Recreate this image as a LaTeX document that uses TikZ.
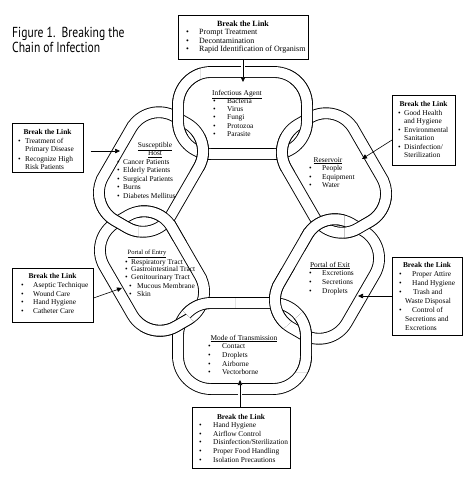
\documentclass[tikz,border=0pt]{standalone}
\usepackage{graphicx}
\usepackage{fontspec}
\setmainfont{Liberation Serif}
\newfontfamily\titlefont{PT Sans}
\usetikzlibrary{arrows.meta}
\newcommand\chainlink[6]{%
  \draw[link, shift={(#1,#2)}, rotate=#3, rounded corners=#6]
    (0,-#5) -- (#4,-#5) -- (#4,#5) -- (-#4,#5) -- (-#4,-#5) -- cycle;}
\newcommand\linkT{\chainlink{242.5}{113}{0}{64.5}{41}{33}}
\newcommand\linkUR{\chainlink{334}{173}{-60}{60}{39}{32}}
\newcommand\linkLR{\chainlink{327}{279}{60}{60}{39}{32}}
\newcommand\linkB{\chainlink{242}{346}{0}{64}{43}{33}}
\newcommand\linkLL{\chainlink{152}{271}{-60}{60}{39}{32}}
\newcommand\linkUL{\chainlink{151}{172}{60}{60}{39}{32}}
\begin{document}
\begin{tikzpicture}[x=1pt,y=-1pt,
  link/.style={line width=0.9pt, double=white, double distance=10pt},
  bl/.style={draw, line width=0.6pt, fill=white, inner sep=0pt},
  tx/.style={font=\fontsize{7.4}{8.6}\selectfont, inner sep=0pt, anchor=base west},
  hd/.style={font=\bfseries\fontsize{7.4}{8.6}\selectfont, inner sep=0pt, anchor=base},
  ul/.style={font=\fontsize{7.4}{8.6}\selectfont, inner sep=0pt, anchor=base},
  arr/.style={-{Triangle[length=5pt,width=4.5pt]}, line width=0.6pt},
]
\useasboundingbox (0,0) rectangle (474,483);
% title
\node[anchor=base west, inner sep=0] (title1) at (12,37.5) {\scalebox{0.8}[1]{\titlefont\fontsize{14.5}{15}\selectfont Figure 1.\ \ Breaking the}};
\node[anchor=base west, inner sep=0] (title2) at (12,52.5) {\scalebox{0.8}[1]{\titlefont\fontsize{14.5}{15}\selectfont Chain of Infection}};
% links
\linkT \linkUR \linkLR \linkB \linkLL \linkUL
% interlocking
\begin{scope}\clip (150,60) rectangle (200,134); \linkT \end{scope}
\begin{scope}\clip (180,134) rectangle (215,170); \linkUL \end{scope}
\begin{scope}\clip (290,60) rectangle (335,134); \linkT \end{scope}
\begin{scope}\clip (270,134) rectangle (305,170); \linkUR \end{scope}
\begin{scope}\clip (138,200) rectangle (187,240); \linkLL \end{scope}
\begin{scope}\clip (88,198) rectangle (138,245); \linkUL \end{scope}
\begin{scope}\clip (150,280) -- (158.5,287.9) -- (216.5,343.1) -- (235,343) -- (235,280) -- cycle; \linkB \end{scope}
\begin{scope}\clip (150,280) -- (158.5,287.9) -- (216.5,343.1) -- (216.5,365) -- (140,365) -- (140,280) -- cycle; \linkLL \end{scope}
\begin{scope}\clip (300,198) rectangle (344.5,250); \linkLR \end{scope}
\begin{scope}\clip (344.5,198) rectangle (395,250); \linkUR \end{scope}
\begin{scope}\clip (263.8,345.7) -- (324.2,293.3) -- (324.2,268) -- (250,268) -- (250,345.7) -- cycle; \linkLR \end{scope}
\begin{scope}\clip (263.8,345.7) -- (324.2,293.3) -- (345,293.3) -- (345,372) -- (263.8,372) -- cycle; \linkB \end{scope}
% boxes
\node[bl, minimum width=130, minimum height=44, anchor=north west] (btop) at (178,15) {};
\node[hd, font=\bfseries\fontsize{8}{9}\selectfont] at (243,26) {Break the Link};
\foreach \t [count=\i] in {Prompt Treatment, Decontamination, Rapid Identification of Organism} {
  \node[tx, font=\fontsize{8}{9}\selectfont] at (186,25.5+\i*8.8) {\textbullet}; \node[tx, font=\fontsize{8}{9}\selectfont] at (199,25.5+\i*8.8) {\t};}
\node[bl, minimum width=71, minimum height=49, anchor=north west] (bhost) at (12,123) {};
\node[hd] at (47.5,134) {Break the Link};
\node[tx] at (18,143) {\textbullet}; \node[tx] at (25,143) {Treatment of};
\node[tx] at (25,151.5) {Primary Disease};
\node[tx] at (18,161) {\textbullet}; \node[tx] at (25,161) {Recognize High};
\node[tx] at (25,169.5) {Risk Patients};
\node[bl, minimum width=63, minimum height=70, anchor=north west] (bres) at (392,95) {};
\node[hd] at (423.5,106) {Break the Link};
\node[tx] at (398,115) {\textbullet}; \node[tx] at (404,115) {Good Health};
\node[tx] at (404,123.5) {and Hygiene};
\node[tx] at (398,132) {\textbullet}; \node[tx] at (404,132) {Environmental};
\node[tx] at (404,140.5) {Sanitation};
\node[tx] at (398,149) {\textbullet}; \node[tx] at (404,149) {Disinfection/};
\node[tx] at (404,157.5) {Sterilization};
\node[bl, minimum width=70, minimum height=78, anchor=north west] (bexit) at (392,257) {};
\node[hd] at (427,267) {Break the Link};
\node[tx] at (399,276) {\textbullet}; \node[tx] at (412,276) {Proper Attire};
\node[tx] at (399,285) {\textbullet}; \node[tx] at (412,285) {Hand Hygiene};
\node[tx] at (399,294) {\textbullet}; \node[tx] at (413,294) {Trash and};
\node[tx] at (405,303) {Waste Disposal};
\node[tx] at (399,312) {\textbullet}; \node[tx] at (412,312) {Control of};
\node[tx] at (405,321) {Secretions and};
\node[tx] at (405,330) {Excretions};
\node[bl, minimum width=81, minimum height=54, anchor=north west] (bentry) at (12,268) {};
\node[hd] at (52.5,278) {Break the Link};
\foreach \t [count=\i] in {Aseptic Technique, Wound Care, Hand Hygiene, Catheter Care} {
  \node[tx] at (21,279+\i*8.6) {\textbullet}; \node[tx] at (33,279+\i*8.6) {\t};}
\node[bl, minimum width=98, minimum height=61, anchor=north west] (bmode) at (192,407) {};
\node[hd] at (241,419) {Break the Link};
\foreach \t [count=\i] in {Hand Hygiene, Airflow Control, Disinfection/Sterilization, Proper Food Handling, Isolation Precautions} {
  \node[tx] at (199,419+\i*8.6) {\textbullet}; \node[tx] at (213,419+\i*8.6) {\t};}
% link texts
\node[ul] at (237,95) {\underline{Infectious Agent}};
\foreach \t [count=\i] in {Bacteria, Virus, Fungi, Protozoa, Parasite} {
  \node[tx] at (213,95+\i*8.3) {\textbullet}; \node[tx] at (227,95+\i*8.3) {\t};}
\begin{scope}[every node/.append style={font=\fontsize{6.6}{8}\selectfont}]
\node[ul] at (155,147) {\underline{Susceptible}};
\node[ul] at (155,155.5) {\underline{Host}};
\foreach \t [count=\i] in {Cancer Patients, Elderly Patients, Surgical Patients, Burns, Diabetes Mellitus} {
  \node[tx] at (117,155.5+\i*8.6) {\textbullet}; \node[tx] at (123,155.5+\i*8.6) {\t};}
\end{scope}
\node[ul] at (328,162) {\underline{Reservoir}};
\foreach \t [count=\i] in {People, Equipment, Water} {
  \node[tx] at (309,162+\i*8.5) {\textbullet}; \node[tx] at (322,162+\i*8.5) {\t};}
\node[ul] at (330,267) {\underline{Portal of Exit}};
\foreach \t [count=\i] in {Excretions, Secretions, Droplets} {
  \node[tx] at (309,267+\i*8.8) {\textbullet}; \node[tx] at (322,267+\i*8.8) {\t};}
\node[ul, font=\fontsize{6.5}{8}\selectfont] at (147,254) {\underline{Portal of Entry}};
\begin{scope}[every node/.append style={font=\fontsize{5.9}{7}\selectfont}]
\node[tx] at (125,264) {\textbullet}; \node[tx] at (131,264) {Respiratory Tract};
\node[tx] at (125,271.5) {\textbullet}; \node[tx] at (131,271.5) {Gastrointestinal Tract};
\node[tx] at (125,279) {\textbullet}; \node[tx] at (131,279) {Genitourinary Tract};
\node[tx] at (129,288.5) {\textbullet}; \node[tx] at (137,288.5) {Mucous Membrane};
\node[tx] at (129,296) {\textbullet}; \node[tx] at (137,296) {Skin};
\end{scope}
\node[ul] at (244,340) {\underline{Mode of Transmission}};
\foreach \t [count=\i] in {Contact, Droplets, Airborne, Vectorborne} {
  \node[tx] at (208,340+\i*8.7) {\textbullet}; \node[tx] at (222,340+\i*8.7) {\t};}
% arrows
\coordinate (ttop) at (243,82);
\coordinate (thost) at (120,151);
\coordinate (tres) at (362,159);
\coordinate (texit) at (358,296);
\coordinate (tentry) at (122,288);
\coordinate (tmode) at (240,380);
\draw[white, line width=4pt] (btop.south -| ttop) -- (ttop);
\draw[arr] (btop.south -| ttop) -- (ttop);
\draw[arr, shorten <=7pt] (bhost.east |- thost) -- (thost);
\draw[arr] (bres.west |- 0,140) -- (tres);
\draw[arr] (bexit.west |- texit) -- (texit);
\draw[arr] (bentry.east |- 0,298) -- (tentry);
\draw[white, line width=4pt] (bmode.north -| tmode) -- (tmode);
\draw[arr] (bmode.north -| tmode) -- (tmode);
\end{tikzpicture}
\end{document}
